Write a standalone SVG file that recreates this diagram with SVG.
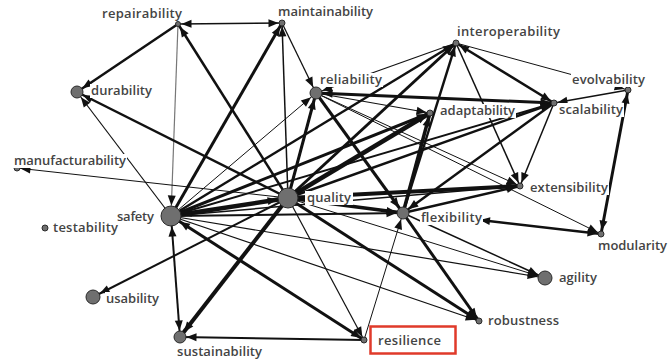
<svg xmlns="http://www.w3.org/2000/svg" width="668" height="359" viewBox="0 0 668 359">
<style>
.e{stroke:#111;fill:none}
.g{stroke:#777}
.n{fill:#6f6f6f;stroke:#2a2a2a;stroke-width:1}
.t{font-family:"Open Sans","Liberation Sans",sans-serif;font-size:13px;font-weight:600;fill:#444}
.bg{fill:#fff}
</style>
<defs>
<marker id="a0" markerUnits="userSpaceOnUse" markerWidth="12" markerHeight="10" viewBox="0 0 12 10" refX="10" refY="5" orient="auto-start-reverse" overflow="visible"><path d="M0,1 L10,5 L0,9 z" fill="#111"/></marker>
<marker id="a3" markerUnits="userSpaceOnUse" markerWidth="12" markerHeight="10" viewBox="0 0 12 10" refX="13.5" refY="5" orient="auto-start-reverse" overflow="visible"><path d="M0,1 L10,5 L0,9 z" fill="#111"/></marker>
<marker id="a6" markerUnits="userSpaceOnUse" markerWidth="12" markerHeight="10" viewBox="0 0 12 10" refX="16.5" refY="5" orient="auto-start-reverse" overflow="visible"><path d="M0,1 L10,5 L0,9 z" fill="#111"/></marker>
<marker id="a7" markerUnits="userSpaceOnUse" markerWidth="12" markerHeight="10" viewBox="0 0 12 10" refX="17.5" refY="5" orient="auto-start-reverse" overflow="visible"><path d="M0,1 L10,5 L0,9 z" fill="#111"/></marker>
<marker id="a10" markerUnits="userSpaceOnUse" markerWidth="12" markerHeight="10" viewBox="0 0 12 10" refX="20.5" refY="5" orient="auto-start-reverse" overflow="visible"><path d="M0,1 L10,5 L0,9 z" fill="#111"/></marker>
</defs>
<rect width="668" height="359" fill="#fff"/>
<g id="connectors">
<line class="e" x1="178" y1="24" x2="282" y2="23" stroke-width="1.5" marker-start="url(#a3)" marker-end="url(#a3)"/>
<line class="e" x1="178" y1="24" x2="77" y2="92" stroke-width="2.5" marker-end="url(#a6)"/>
<line class="e g" x1="178" y1="24" x2="171" y2="216" stroke-width="1.2" marker-end="url(#a10)"/>
<line class="e" x1="288" y1="198" x2="178" y2="24" stroke-width="2.5" marker-end="url(#a3)"/>
<line class="e" x1="171" y1="216" x2="282" y2="23" stroke-width="3" marker-end="url(#a3)"/>
<line class="e" x1="288" y1="198" x2="282" y2="23" stroke-width="1.5" marker-end="url(#a3)"/>
<line class="e" x1="282" y1="23" x2="316" y2="93" stroke-width="1.3" marker-end="url(#a6)"/>
<line class="e" x1="171" y1="216" x2="77" y2="92" stroke-width="1.2" marker-end="url(#a6)"/>
<line class="e" x1="288" y1="198" x2="77" y2="92" stroke-width="2.5" marker-end="url(#a6)"/>
<line class="e" x1="288" y1="198" x2="17" y2="168" stroke-width="1" marker-end="url(#a3)"/>
<line class="e" x1="288" y1="198" x2="93" y2="297" stroke-width="2" marker-end="url(#a7)"/>
<line class="e" x1="171" y1="216" x2="180" y2="337" stroke-width="2" marker-start="url(#a10)" marker-end="url(#a6)"/>
<line class="e" x1="288" y1="198" x2="180" y2="337" stroke-width="4" marker-end="url(#a6)"/>
<line class="e" x1="364" y1="340" x2="180" y2="337" stroke-width="2" marker-end="url(#a6)"/>
<line class="e" x1="171" y1="216" x2="364" y2="340" stroke-width="3" marker-start="url(#a10)" marker-end="url(#a3)"/>
<line class="e" x1="171" y1="216" x2="545" y2="278" stroke-width="1.2" marker-end="url(#a7)"/>
<line class="e" x1="171" y1="216" x2="479" y2="321" stroke-width="1.2" marker-end="url(#a3)"/>
<line class="e" x1="171" y1="216" x2="403" y2="213" stroke-width="2" marker-end="url(#a6)"/>
<line class="e" x1="288" y1="198" x2="403" y2="213" stroke-width="3.5" marker-end="url(#a6)"/>
<line class="e" x1="288" y1="198" x2="171" y2="216" stroke-width="4.5" marker-start="url(#a10)" marker-end="url(#a10)"/>
<line class="e" x1="288" y1="198" x2="520" y2="186" stroke-width="4" marker-end="url(#a3)"/>
<line class="e" x1="288" y1="198" x2="479" y2="321" stroke-width="3" marker-end="url(#a3)"/>
<line class="e" x1="403" y1="213" x2="479" y2="321" stroke-width="3" marker-end="url(#a3)"/>
<line class="e" x1="403" y1="213" x2="545" y2="278" stroke-width="1.5" marker-end="url(#a7)"/>
<line class="e" x1="480" y1="220" x2="601" y2="234" stroke-width="2.5" marker-start="url(#a0)" marker-end="url(#a3)"/>
<line class="e" x1="628" y1="90" x2="601" y2="234" stroke-width="3" marker-start="url(#a3)" marker-end="url(#a3)"/>
<line class="e" x1="628" y1="90" x2="554" y2="103" stroke-width="1.5" marker-end="url(#a3)"/>
<line class="e" x1="456" y1="43" x2="628" y2="90" stroke-width="1" marker-end="url(#a3)"/>
<line class="e" x1="316" y1="93" x2="601" y2="234" stroke-width="1" marker-end="url(#a3)"/>
<line class="e" x1="316" y1="93" x2="520" y2="186" stroke-width="1" marker-end="url(#a3)"/>
<line class="e" x1="456" y1="43" x2="520" y2="186" stroke-width="1.5" marker-end="url(#a3)"/>
<line class="e" x1="554" y1="103" x2="520" y2="186" stroke-width="1.5" marker-end="url(#a3)"/>
<line class="e" x1="403" y1="213" x2="520" y2="186" stroke-width="2.5" marker-end="url(#a3)"/>
<line class="e" x1="403" y1="213" x2="430" y2="113" stroke-width="3.5" marker-end="url(#a3)"/>
<line class="e" x1="403" y1="213" x2="456" y2="43" stroke-width="2.5" marker-end="url(#a3)"/>
<line class="e" x1="554" y1="103" x2="316" y2="93" stroke-width="3" marker-start="url(#a3)" marker-end="url(#a6)"/>
<line class="e" x1="316" y1="93" x2="430" y2="113" stroke-width="1.2" marker-end="url(#a3)"/>
<line class="e" x1="456" y1="43" x2="316" y2="93" stroke-width="1.2" marker-end="url(#a6)"/>
<line class="e" x1="288" y1="198" x2="316" y2="93" stroke-width="3" marker-end="url(#a6)"/>
<line class="e" x1="316" y1="93" x2="403" y2="213" stroke-width="3" marker-end="url(#a6)"/>
<line class="e" x1="171" y1="216" x2="316" y2="93" stroke-width="1" marker-end="url(#a6)"/>
<line class="e" x1="171" y1="216" x2="430" y2="113" stroke-width="3" marker-end="url(#a3)"/>
<line class="e" x1="288" y1="198" x2="430" y2="113" stroke-width="4.5" marker-end="url(#a3)"/>
<line class="e" x1="171" y1="216" x2="456" y2="43" stroke-width="2.5" marker-end="url(#a3)"/>
<line class="e" x1="288" y1="198" x2="456" y2="43" stroke-width="3" marker-end="url(#a3)"/>
<line class="e" x1="171" y1="216" x2="554" y2="103" stroke-width="2" marker-end="url(#a3)"/>
<line class="e" x1="288" y1="198" x2="554" y2="103" stroke-width="2.5" marker-end="url(#a3)"/>
<line class="e" x1="554" y1="103" x2="403" y2="213" stroke-width="2.5" marker-end="url(#a6)"/>
<line class="e" x1="288" y1="198" x2="545" y2="278" stroke-width="1" marker-end="url(#a7)"/>
<line class="e" x1="288" y1="198" x2="364" y2="340" stroke-width="1.2" marker-end="url(#a3)"/>
<line class="e" x1="364" y1="340" x2="403" y2="213" stroke-width="1" marker-end="url(#a6)"/>
<line class="e" x1="456" y1="43" x2="554" y2="103" stroke-width="2.5" marker-start="url(#a3)" marker-end="url(#a3)"/>
<line class="e" x1="171" y1="216" x2="520" y2="186" stroke-width="1.5" marker-end="url(#a3)"/>
</g>
<g id="repairability"><circle class="n" cx="178" cy="24" r="2.5"/><rect class="bg" x="101" y="7" width="82" height="14"/><text class="t" x="102" y="18" textLength="80" lengthAdjust="spacing">repairability</text></g>
<g id="maintainability"><circle class="n" cx="282" cy="23" r="3"/><rect class="bg" x="277" y="5" width="97" height="14"/><text class="t" x="278" y="16" textLength="95" lengthAdjust="spacing">maintainability</text></g>
<g id="durability"><circle class="n" cx="77" cy="92" r="6"/><rect class="bg" x="90" y="84" width="63" height="14"/><text class="t" x="91" y="95" textLength="61" lengthAdjust="spacing">durability</text></g>
<g id="reliability"><circle class="n" cx="316" cy="93" r="6"/><rect class="bg" x="319" y="73" width="64" height="14"/><text class="t" x="320" y="84" textLength="62" lengthAdjust="spacing">reliability</text></g>
<g id="interoperability"><circle class="n" cx="456" cy="43" r="3"/><rect class="bg" x="456" y="25" width="105" height="14"/><text class="t" x="457" y="36" textLength="103" lengthAdjust="spacing">interoperability</text></g>
<g id="evolvability"><circle class="n" cx="628" cy="90" r="3"/><rect class="bg" x="571" y="73" width="75" height="14"/><text class="t" x="572" y="84" textLength="73" lengthAdjust="spacing">evolvability</text></g>
<g id="scalability"><circle class="n" cx="554" cy="103" r="3"/><rect class="bg" x="558" y="103" width="66" height="14"/><text class="t" x="559" y="114" textLength="64" lengthAdjust="spacing">scalability</text></g>
<g id="adaptability"><circle class="n" cx="430" cy="113" r="3"/><rect class="bg" x="439" y="104" width="77" height="14"/><text class="t" x="440" y="115" textLength="75" lengthAdjust="spacing">adaptability</text></g>
<g id="manufacturability"><circle class="n" cx="17" cy="168" r="3"/><rect class="bg" x="13" y="154" width="114" height="14"/><text class="t" x="14" y="165" textLength="112" lengthAdjust="spacing">manufacturability</text></g>
<g id="extensibility"><circle class="n" cx="520" cy="186" r="3"/><rect class="bg" x="529" y="181" width="80" height="14"/><text class="t" x="530" y="192" textLength="78" lengthAdjust="spacing">extensibility</text></g>
<g id="safety"><circle class="n" cx="171" cy="216" r="10"/><rect class="bg" x="116" y="210" width="39" height="14"/><text class="t" x="117" y="221" textLength="37" lengthAdjust="spacing">safety</text></g>
<g id="quality"><circle class="n" cx="288" cy="198" r="10"/><rect class="bg" x="305" y="191" width="48" height="14"/><text class="t" x="307" y="202" textLength="44" lengthAdjust="spacing">quality</text></g>
<g id="flexibility"><circle class="n" cx="403" cy="213" r="6"/><rect class="bg" x="420" y="211" width="63" height="14"/><text class="t" x="421" y="222" textLength="61" lengthAdjust="spacing">flexibility</text></g>
<g id="modularity"><circle class="n" cx="601" cy="234" r="3"/><rect class="bg" x="597" y="239" width="71" height="14"/><text class="t" x="598" y="250" textLength="69" lengthAdjust="spacing">modularity</text></g>
<g id="testability"><circle class="n" cx="45" cy="228" r="3"/><rect class="bg" x="52" y="221" width="67" height="14"/><text class="t" x="53" y="232" textLength="65" lengthAdjust="spacing">testability</text></g>
<g id="agility"><circle class="n" cx="545" cy="278" r="7"/><rect class="bg" x="558" y="271" width="40" height="14"/><text class="t" x="559" y="282" textLength="38" lengthAdjust="spacing">agility</text></g>
<g id="usability"><circle class="n" cx="93" cy="297" r="7"/><rect class="bg" x="105" y="292" width="55" height="14"/><text class="t" x="106" y="303" textLength="53" lengthAdjust="spacing">usability</text></g>
<g id="robustness"><circle class="n" cx="479" cy="321" r="3"/><rect class="bg" x="487" y="314" width="73" height="14"/><text class="t" x="488" y="325" textLength="71" lengthAdjust="spacing">robustness</text></g>
<g id="sustainability"><circle class="n" cx="180" cy="337" r="6"/><rect class="bg" x="176" y="345" width="87" height="14"/><text class="t" x="177" y="356" textLength="85" lengthAdjust="spacing">sustainability</text></g>
<g id="resilience"><circle class="n" cx="364" cy="340" r="3"/><rect x="370.5" y="326.5" width="85" height="27" fill="#fff" stroke="#e03a2a" stroke-width="2.5"/><text class="t" x="378" y="345" textLength="63" lengthAdjust="spacing">resilience</text></g>
</svg>
